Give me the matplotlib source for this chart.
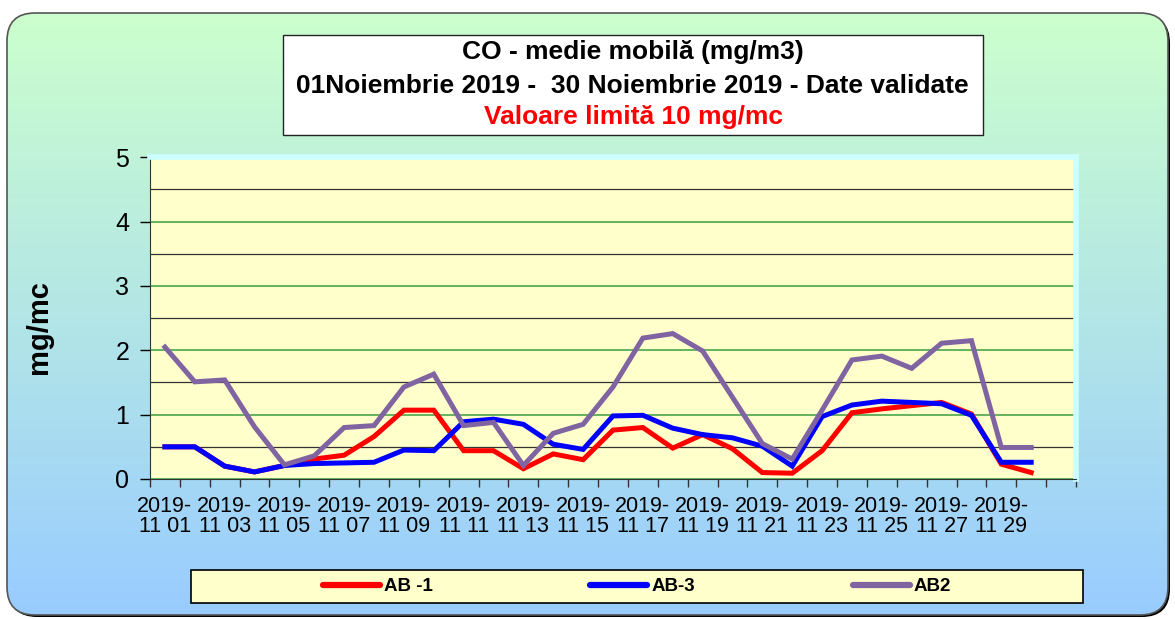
import matplotlib.pyplot as plt
import numpy as np
from matplotlib.patches import FancyBboxPatch, Rectangle
from matplotlib.colors import LinearSegmentedColormap

# data (mg/mc), 1-30 Nov 2019
days = ["%02d" % d for d in range(1, 31)]
ab1 = [0.50, 0.50, 0.20, 0.11, 0.21, 0.31, 0.37, 0.66, 1.07, 1.07,
       0.44, 0.44, 0.16, 0.39, 0.30, 0.76, 0.80, 0.48, 0.69, 0.47,
       0.10, 0.09, 0.44, 1.03, 1.09, 1.14, 1.19, 1.01, 0.23, 0.10]
ab3 = [0.50, 0.50, 0.20, 0.11, 0.21, 0.24, 0.25, 0.26, 0.45, 0.44,
       0.89, 0.93, 0.85, 0.54, 0.46, 0.98, 0.99, 0.79, 0.69, 0.64,
       0.51, 0.20, 0.97, 1.15, 1.21, 1.19, 1.17, 0.99, 0.26, 0.26]
ab2 = [2.05, 1.51, 1.54, 0.81, 0.22, 0.36, 0.80, 0.83, 1.43, 1.63,
       0.83, 0.88, 0.21, 0.71, 0.85, 1.43, 2.19, 2.26, 1.99, 1.27,
       0.55, 0.31, 1.07, 1.85, 1.91, 1.72, 2.11, 2.15, 0.49, 0.49]
series = ["AB -1", "AB-3", "AB2"]
colors = ["#FF0000", "#0000FF", "#8064A2"]

W, H = 1175, 619
fig = plt.figure(figsize=(W / 100, H / 100), dpi=100, facecolor="white")

# background panel with gradient and rounded corners
bg = fig.add_axes([0, 0, 1, 1], zorder=-5)
bg.set_xlim(0, W)
bg.set_ylim(H, 0)
bg.axis("off")
shadow = FancyBboxPatch((9, 15), 1161, 602, boxstyle="round,pad=0,rounding_size=28",
                        fc="black", ec="none")
bg.add_patch(shadow)
panel = FancyBboxPatch((7, 13), 1161, 602, boxstyle="round,pad=0,rounding_size=28",
                       fc="none", ec="#555555", lw=1.2, zorder=3)
bg.add_patch(panel)
cmap = LinearSegmentedColormap.from_list("bg", ["#CCFFCC", "#B3E6E6", "#99CCFF"])
grad = np.linspace(0, 1, 256).reshape(-1, 1)
im = bg.imshow(grad, extent=[7, 1168, 615, 13], aspect="auto", cmap=cmap, zorder=1)
im.set_clip_path(panel)

# title box
tfont = dict(ha="center", va="center", fontsize=19, fontweight="bold",
             family="Liberation Sans", zorder=5)
bg.add_patch(Rectangle((283, 35), 700, 100, fc="white", ec="#222222", lw=1, zorder=4))
bg.text(633, 52, "CO - medie mobilă (mg/m3)", **tfont)
bg.text(632, 86, "01Noiembrie 2019 -  30 Noiembrie 2019 - Date validate", **tfont)
bg.text(633, 117, "Valoare limită 10 mg/mc", color="#FF0000", **tfont)

# legend box
bg.add_patch(Rectangle((191, 570), 892, 33, fc="#FFFFCC", ec="black", lw=1.2, zorder=4))

# main chart
ax = fig.add_axes([150 / W, 140 / H, 926 / W, 321.7 / H])
ax.set_facecolor("#FFFFCC")
x = np.arange(len(days))
lines = []
for vals, name, c in zip([ab1, ab3, ab2], series, colors):
    ln, = ax.plot(x, vals, color=c, lw=3.6, label=name, solid_joinstyle="miter")
    lines.append(ln)

ax.set_xlim(-0.5, 30.5)
ax.set_ylim(0, 5)
ax.set_yticks(np.arange(0, 6, 1))
ax.set_yticks(np.arange(0.5, 5, 1), minor=True)
ax.yaxis.grid(True, which="major", color="#4CA64C", lw=1.2)
ax.yaxis.grid(True, which="minor", color="#333333", lw=0.9)
ax.set_axisbelow(True)
ax.tick_params(axis="y", which="major", length=7, width=1, labelsize=18, pad=8)
ax.tick_params(axis="y", which="minor", length=0)
for lab in ax.get_yticklabels():
    lab.set_family("Liberation Sans")

ax.set_xticks(np.arange(-0.5, 31, 1))
ax.set_xticklabels([])
ax.set_xticks(x[::2], minor=True)
ax.set_xticklabels(["2019-\n11 " + d for d in days[::2]], minor=True,
                   family="Liberation Sans", fontsize=15.5, linespacing=0.95)
ax.tick_params(axis="x", which="major", length=6, width=1, color="#333333")
ax.tick_params(axis="x", which="minor", length=0, pad=12)

ax.spines["left"].set_color("#333333")
ax.spines["bottom"].set_color("#333333")
ax.spines["top"].set_color("#CCFFFF")
ax.spines["right"].set_color("#CCFFFF")
ax.spines["top"].set_linewidth(4)
ax.spines["right"].set_linewidth(4)

ax.set_ylabel("mg/mc", fontsize=21, fontweight="bold", family="Liberation Sans")
ax.yaxis.set_label_coords(-0.105, 0.472)

leg = ax.legend(handles=lines, ncol=3, loc="center", bbox_to_anchor=(637, 586.5),
                bbox_transform=bg.transData, frameon=False, handlelength=3.05,
                handletextpad=0.22, columnspacing=8.4,
                prop={"family": "Liberation Sans", "weight": "bold", "size": 13.5})
for h in leg.get_lines():
    h.set_linewidth(4.5)
    h.set_solid_capstyle("round")

fig.savefig("out.png", dpi=100)
